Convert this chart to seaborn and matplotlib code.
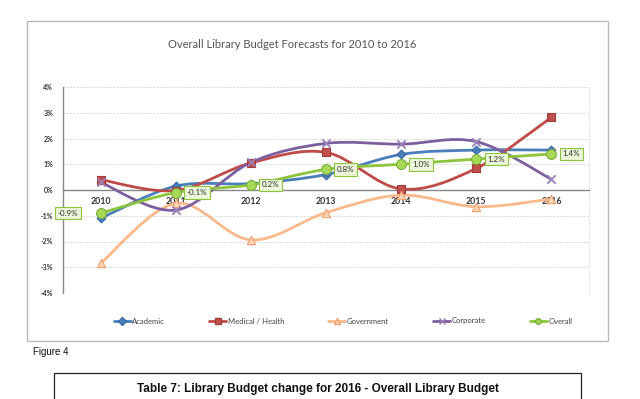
import numpy as np
import pandas as pd
import matplotlib
matplotlib.use("Agg")
import matplotlib.pyplot as plt
import seaborn as sns
from matplotlib.path import Path
from matplotlib.patches import PathPatch, Rectangle
from matplotlib.lines import Line2D

years = ["2010", "2011", "2012", "2013", "2014", "2015", "2016"]
academic = [-1.1, 0.15, 0.25, 0.6, 1.38, 1.55, 1.55]
medical = [0.4, -0.02, 1.05, 1.46, 0.04, 0.84, 2.82]
government = [-2.85, -0.52, -1.94, -0.88, -0.2, -0.65, -0.35]
corporate = [0.3, -0.78, 1.07, 1.81, 1.78, 1.88, 0.42]
overall = [-0.9, -0.1, 0.2, 0.8, 1.0, 1.2, 1.4]
overall_labels = ["-0.9%", "-0.1%", "0.2%", "0.8%", "1.0%", "1.2%", "1.4%"]
y_ticks = [-4, -3, -2, -1, 0, 1, 2, 3, 4]
y_ticklabels = ["-4%", "-3%", "-2%", "-1%", "0%", "1%", "2%", "3%", "4%"]

series_names = ["Academic", "Medical / Health", "Government", "Corporate", "Overall"]
series_vals = [academic, medical, government, corporate, overall]
line_colors = ["#4A7EBB", "#BE4B48", "#F9B98A", "#7D5FA0", "#8CC43C"]
face_colors = ["#4A7EBB", "#C0504D", "#FCD5B5", "#9A80BC", "#A6D957"]
edge_colors = ["#3A6BA8", "#A23C39", "#F0A070", "#7D5FA0", "#7AB03A"]
markers = ["D", "s", "^", "x", "o"]
msizes = [20, 36, 36, 36, 50]

sns.set_style("white")
plt.rcParams["font.family"] = ["Lato", "DejaVu Sans"]

fig = plt.figure(figsize=(6.4, 3.99), dpi=100)
fig.patch.set_facecolor("white")

# chart frame
fig.add_artist(Rectangle((27 / 640, 1 - 341 / 399), 581 / 640, 320 / 399,
                         transform=fig.transFigure, fill=False,
                         edgecolor="#BBBBBB", linewidth=1.0))

ax = fig.add_axes([63 / 640, 1 - 293 / 399, 526 / 640, 206 / 399])
ax.set_facecolor("white")

x = np.arange(len(years))


def smooth_path(xs, ys):
    pts = np.column_stack([xs, ys]).astype(float)
    n = len(pts)
    verts = [pts[0]]
    codes = [Path.MOVETO]
    for i in range(n - 1):
        p0 = pts[i - 1] if i > 0 else pts[i]
        p1 = pts[i]
        p2 = pts[i + 1]
        p3 = pts[i + 2] if i + 2 < n else pts[i + 1]
        c1 = p1 + (p2 - p0) / 6.0
        c2 = p2 - (p3 - p1) / 6.0
        verts += [c1, c2, p2]
        codes += [Path.CURVE4] * 3
    return Path(verts, codes)


for name, vals, lc, fc, ec, mk, ms in zip(series_names, series_vals, line_colors,
                                          face_colors, edge_colors, markers, msizes):
    patch = PathPatch(smooth_path(x, vals), facecolor="none", edgecolor=lc,
                      linewidth=2.0, zorder=3, capstyle="round")
    ax.add_patch(patch)
    df = pd.DataFrame({"x": x, "y": vals})
    if mk == "x":
        sns.scatterplot(data=df, x="x", y="y", ax=ax, marker="x", s=ms,
                        color="#9A80BC", linewidth=1.3, zorder=4, legend=False)
    else:
        sns.scatterplot(data=df, x="x", y="y", ax=ax, marker=mk, s=ms,
                        color=fc, edgecolor=ec, linewidth=0.8, zorder=4, legend=False)

# data labels for Overall
for i, (v, lab) in enumerate(zip(overall, overall_labels)):
    if i == 0:
        off, ha = -16, "right"
    else:
        off, ha = 8, "left"
    ax.annotate(lab, (x[i], v), xytext=(off, 0), textcoords="offset points",
                ha=ha, va="center", fontsize=5.8, color="#333333", zorder=6,
                bbox=dict(boxstyle="square,pad=0.35", facecolor="#EBF5D8",
                          edgecolor="#8CC43C", linewidth=0.8))

ax.set_xlabel("")
ax.set_ylabel("")
ax.spines["bottom"].set_position(("data", 0))
ax.spines["bottom"].set_color("#888888")
ax.spines["bottom"].set_linewidth(1.0)
ax.spines["left"].set_color("#888888")
ax.spines["left"].set_linewidth(1.0)
ax.spines["top"].set_visible(False)
ax.spines["right"].set_color("#DDDDDD")
ax.spines["right"].set_linestyle((0, (2, 2)))
ax.spines["right"].set_linewidth(0.6)

ax.set_xlim(-0.5, len(years) - 0.5)
ax.set_ylim(-4, 4)
ax.set_yticks(y_ticks)
ax.set_yticklabels(y_ticklabels, fontsize=5, color="#333333", fontweight="bold")
ax.set_xticks(x)
ax.set_xticklabels(years, fontsize=6.3, fontweight="bold", color="#333333")
ax.set_xticks(np.arange(-0.5, len(years) - 0.4, 1.0), minor=True)
ax.tick_params(axis="x", which="major", length=0, pad=5)
ax.tick_params(axis="x", which="minor", length=3, direction="in", color="#888888", width=0.8)
ax.tick_params(axis="y", length=3, direction="out", color="#888888", width=0.8, pad=4)

for yv in y_ticks:
    if yv != 0:
        ax.axhline(yv, color="#CCCCCC", linestyle=(0, (2, 2)), linewidth=0.6, zorder=1)

# title
fig.text(292 / 640, 1 - 44 / 399, "Overall Library Budget Forecasts for 2010 to 2016",
         ha="center", va="center", fontsize=8, color="#555555")

# legend
handles = []
for name, lc, fc, ec, mk in zip(series_names, line_colors, face_colors, edge_colors, markers):
    if mk == "x":
        h = Line2D([], [], color=lc, linewidth=2, marker="x", markersize=4,
                   markeredgecolor="#9A80BC")
    else:
        h = Line2D([], [], color=lc, linewidth=2, marker=mk, markersize=4,
                   markerfacecolor=fc, markeredgecolor=ec)
    handles.append(h)
leg = fig.legend(handles, series_names, loc="center", bbox_to_anchor=(343 / 640, 1 - 321 / 399),
                 ncol=5, frameon=False, fontsize=5.5, handlelength=2.2,
                 handletextpad=0.2, columnspacing=5.8)
for t in leg.get_texts():
    t.set_color("#444444")

narrow = ["Liberation Sans Narrow", "Liberation Sans", "DejaVu Sans"]
fig.text(33 / 640, 1 - 352 / 399, "Figure 4", ha="left", va="center",
         fontsize=7, family=narrow, color="#111111")

fig.add_artist(Rectangle((54 / 640, -0.05), 527 / 640, (1 - 373 / 399) + 0.05,
                         transform=fig.transFigure, fill=False,
                         edgecolor="#222222", linewidth=0.9))
fig.text(318 / 640, 1 - 389 / 399,
         "Table 7: Library Budget change for 2016 - Overall Library Budget",
         ha="center", va="center", fontsize=8.5, fontweight="bold",
         family=narrow, color="#111111")

fig.savefig("out.png", dpi=100, facecolor="white")
